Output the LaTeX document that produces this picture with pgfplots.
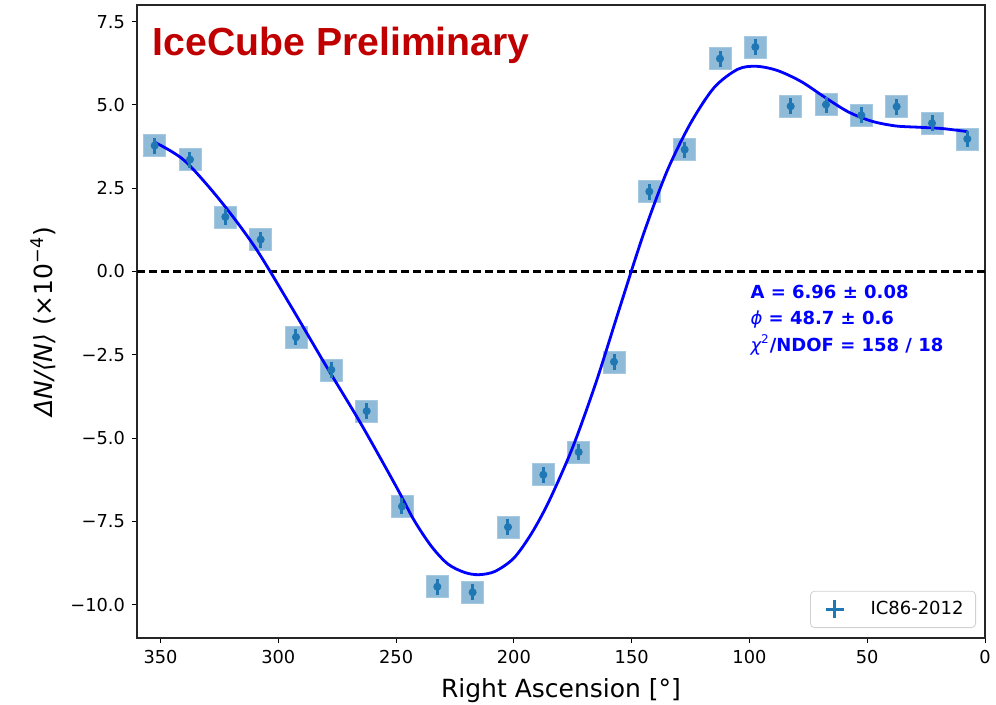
\documentclass[border=0pt]{standalone}
\usepackage{fontspec}
\setmainfont{DejaVu Sans}
\newfontfamily\titlefont{Liberation Sans}
\usepackage{pgfplots}
\usepackage{pgfplotstable}
\pgfplotsset{compat=1.18}

\definecolor{tabblue}{HTML}{1F77B4}
\definecolor{boxblue}{HTML}{8FBBD9}
\definecolor{icred}{HTML}{C00000}

% relative event-rate deviation per 15 deg right-ascension bin (x 1e-4)
\pgfplotstableread{
ra     dn     err
352.5  3.78   0.24
337.5  3.36   0.24
322.5  1.64   0.24
307.5  0.96   0.24
292.5 -1.97   0.24
277.5 -2.95   0.24
262.5 -4.19   0.24
247.5 -7.05   0.24
232.5 -9.46   0.24
217.5 -9.63   0.24
202.5 -7.67   0.24
187.5 -6.10   0.24
172.5 -5.42   0.24
157.5 -2.71   0.24
142.5  2.40   0.24
127.5  3.66   0.24
112.5  6.39   0.24
97.5   6.74   0.24
82.5   4.96   0.24
67.5   5.01   0.24
52.5   4.69   0.24
37.5   4.95   0.24
22.5   4.45   0.24
7.5    3.98   0.24
}\anisotropy

% harmonic fit, sampled along right ascension
\pgfplotstableread{
ra     fit
352.5  3.88
340.0  3.34
325.0  2.16
310.0  0.74
295.0 -1.00
280.0 -2.80
265.0 -4.56
250.0 -6.45
242.5 -7.45
235.0 -8.25
228.0 -8.78
221.0 -9.03
215.0 -9.10
208.0 -9.00
200.0 -8.60
192.5 -7.86
185.0 -6.88
175.0 -5.27
165.0 -3.30
155.0 -1.07
145.0  1.12
135.0  3.01
125.0  4.45
115.0  5.52
105.0  6.07
97.0   6.16
88.0   6.03
78.0   5.70
68.0   5.23
58.0   4.79
48.0   4.51
38.0   4.37
28.0   4.33
18.0   4.29
7.5    4.20
}\fitcurve

\begin{document}
\begin{tikzpicture}
\begin{axis}[
  name=ax,
  scale only axis,
  width=424pt, height=316.5pt,
  x dir=reverse,
  xmin=0, xmax=360, ymin=-11, ymax=8,
  xtick={0,50,100,150,200,250,300,350},
  xticklabels={0,50,100,150,200,250,300,350},
  ytick={-10,-7.5,-5,-2.5,0,2.5,5,7.5},
  yticklabels={−10.0,−7.5,−5.0,−2.5,0.0,2.5,5.0,7.5},
  xtick pos=bottom, ytick pos=left,
  tick align=outside,
  major tick length=2.5pt,
  every tick/.style={black, line width=0.5pt},
  axis line style={line width=0.6pt, black!85},
  tick label style={font=\fontsize{8.9}{10}\selectfont},
  label style={font=\fontsize{12.5}{14}\selectfont},
  xlabel={Right Ascension [°]},
  ylabel={\textit{ΔN/⟨N⟩} (×10\textsuperscript{−4})},
  xlabel style={at={(axis description cs:0.5,-0.0932)}, anchor=base},
  ylabel style={at={(axis description cs:-0.1108,0.5)}, anchor=center},
  clip marker paths=true,
  legend style={at={(1,0)}, anchor=south east, xshift=-4.5pt, yshift=5pt,
    draw=black!18, rounded corners=2pt, fill=white,
    font=\fontsize{9}{10}\selectfont, inner xsep=4pt, inner ysep=3pt},
  legend cell align=left,
]
  % zero reference
  \addplot[black, line width=1.5pt, dash pattern=on 4pt off 2pt, forget plot]
    coordinates {(0,0) (360,0)};
  % bin boxes
  \addplot[only marks, mark=square*, mark size=5.5pt,
    mark options={fill=boxblue, draw=boxblue!80!white, line width=0.3pt}, forget plot]
    table[x=ra, y=dn] {\anisotropy};
  % fit
  \addplot[blue, line width=1.4pt, smooth, forget plot]
    table[x=ra, y=fit] {\fitcurve};
  % bin values with statistical errors
  \addplot[tabblue, only marks, mark=*, mark size=1.8pt,
    mark options={tabblue},
    legend image code/.code={
      \path[draw=none, fill=none] (0pt,0pt) rectangle (24pt,0.1pt);
      \draw[tabblue, line width=1.4pt, sharp corners] (3.5pt,0pt) -- (12.5pt,0pt)
        (8pt,-4.5pt) -- (8pt,4.5pt);
    },
    error bars/y dir=both,
    error bars/y explicit,
    error bars/error mark=none,
    error bars/error bar style={line width=1.5pt, tabblue, solid}]
    table[x=ra, y=dn, y error=err] {\anisotropy};
  \addlegendentry{IC86-2012}

  \node[anchor=base west, inner sep=0pt, text=icred,
    font=\titlefont\bfseries\fontsize{19.6}{22}\selectfont]
    at (axis cs:353.5,6.49) {IceCube Preliminary};
  \node[anchor=base west, inner sep=0pt, text=blue,
    font=\bfseries\fontsize{9}{11}\selectfont]
    at (axis cs:99.7,-0.82) {A = 6.96 ± 0.08};
  \node[anchor=base west, inner sep=0pt, text=blue,
    font=\bfseries\fontsize{9}{11}\selectfont]
    at (axis cs:99.7,-1.60) {{\mdseries\itshape ϕ} = 48.7 ± 0.6};
  \node[anchor=base west, inner sep=0pt, text=blue,
    font=\bfseries\fontsize{9}{11}\selectfont]
    at (axis cs:99.7,-2.39) {{\mdseries\itshape χ}\textsuperscript{\mdseries 2}/NDOF = 158 / 18};
\end{axis}
\pgfresetboundingbox
\path ([xshift=-68.5pt,yshift=-33pt]ax.south west) rectangle ([xshift=5.5pt,yshift=2.5pt]ax.north east);
\end{tikzpicture}
\end{document}
